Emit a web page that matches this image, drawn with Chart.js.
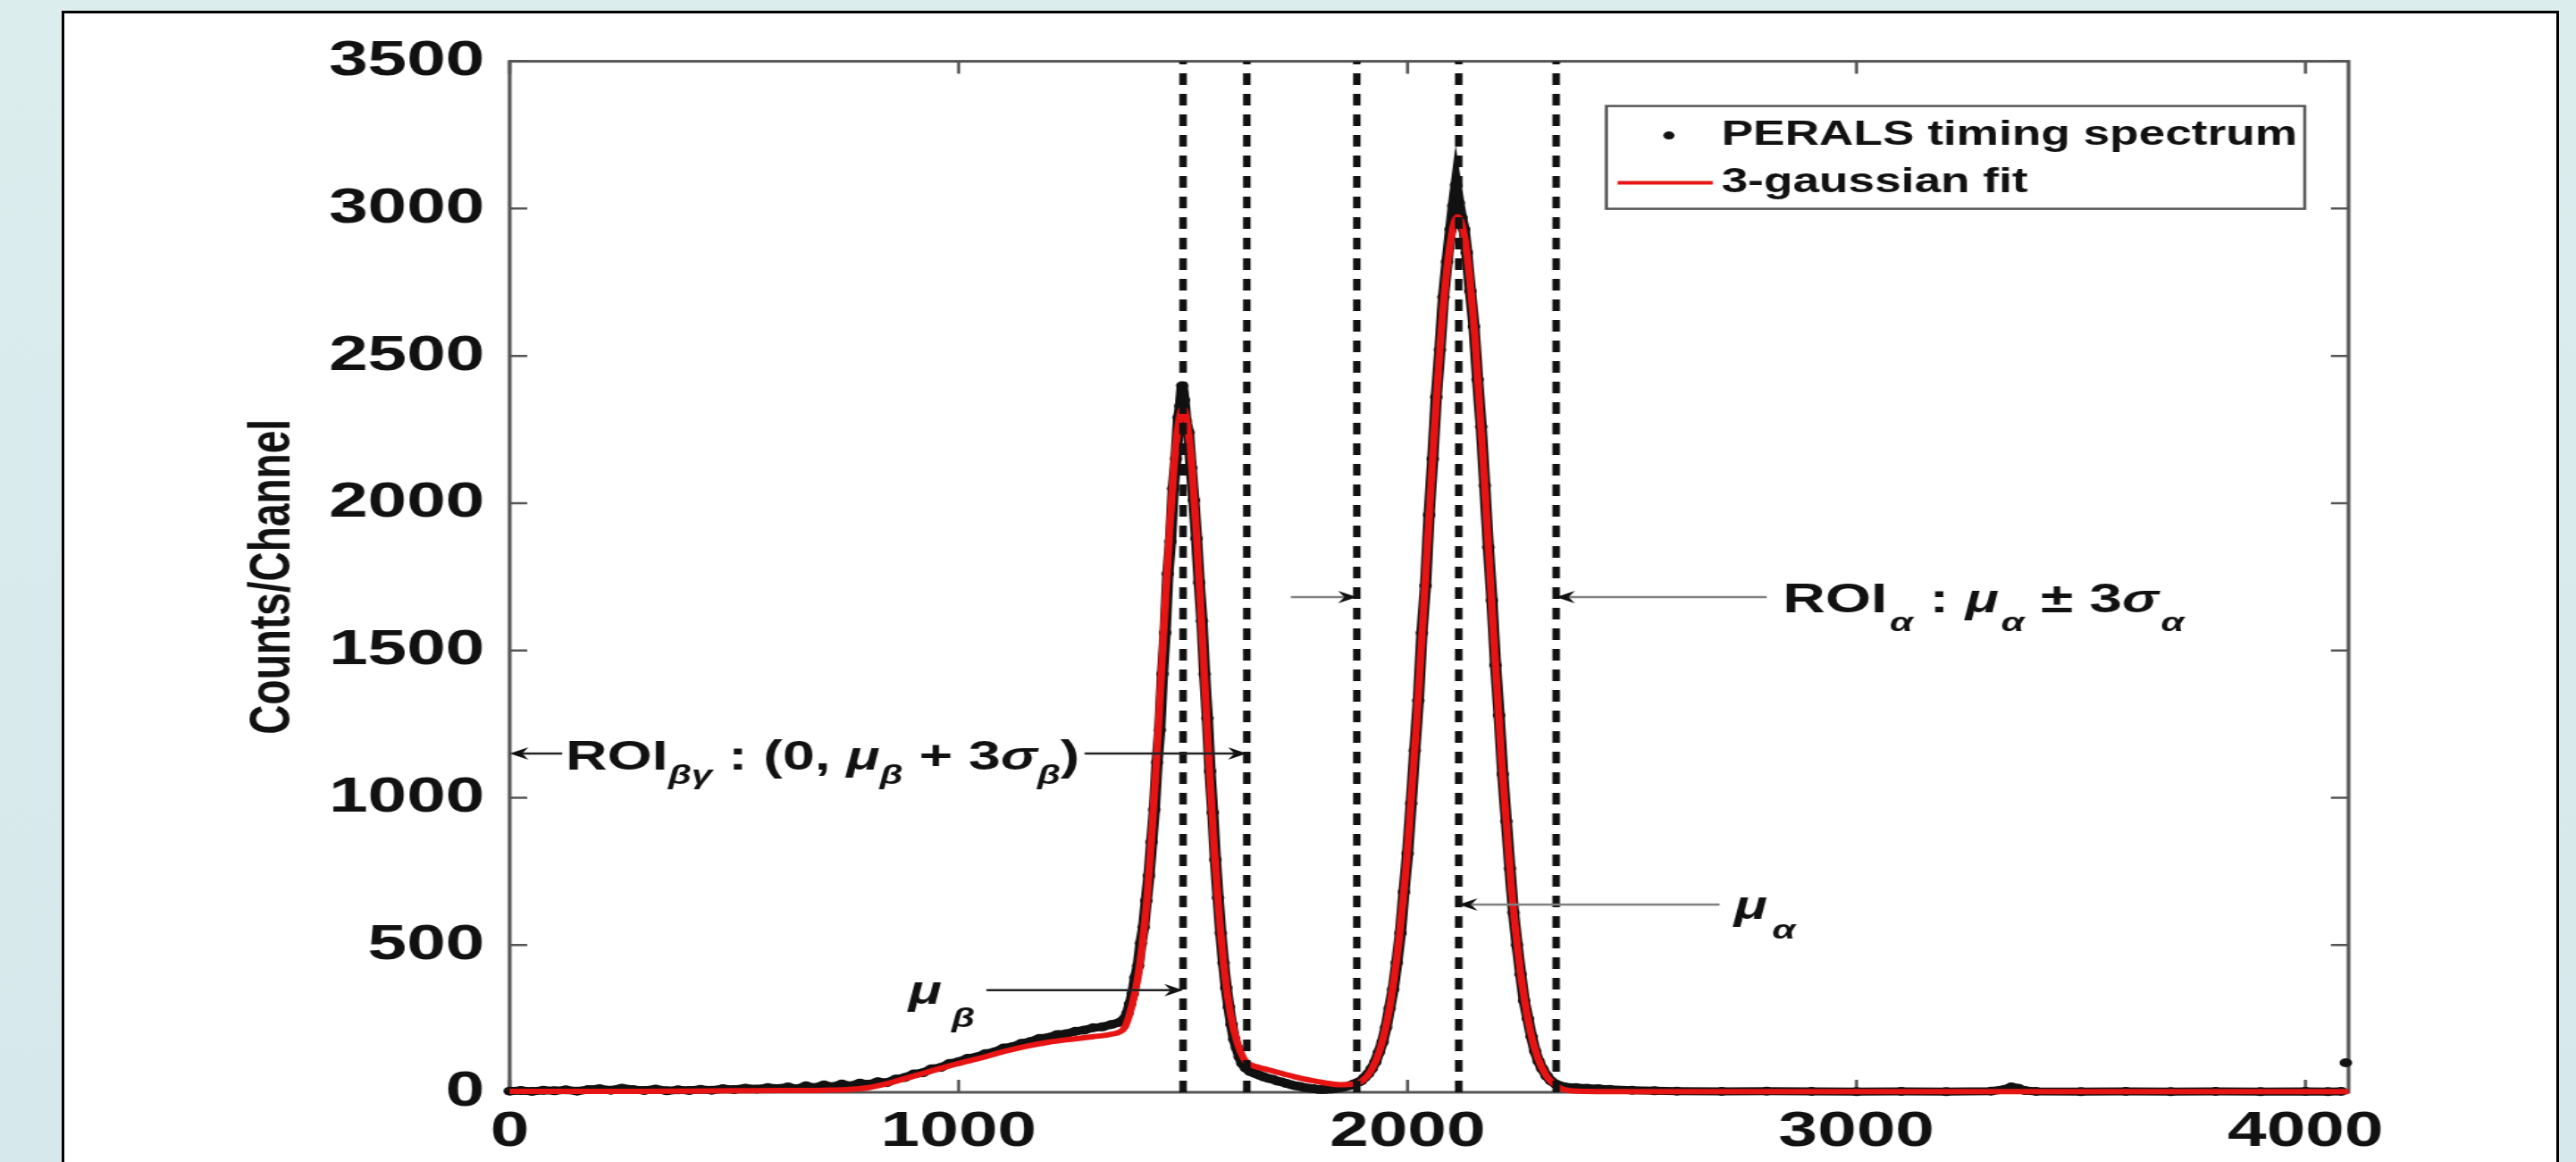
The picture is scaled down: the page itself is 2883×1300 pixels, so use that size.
<!DOCTYPE html>
<html lang="en">
<head>
<meta charset="UTF-8">
<title>PERALS timing spectrum</title>
<script src="https://cdn.jsdelivr.net/npm/chart.js"></script>
<style>
  html, body { margin: 0; padding: 0; }
  body {
    width: 2883px; height: 1300px; overflow: hidden; position: relative;
    background: linear-gradient(180deg, #dcedee 0%, #d6e8eb 100%);
  }
  .frame {
    position: absolute; left: 69px; top: 12px; width: 2789px; height: 1400px;
    border: 3px solid #000; background: #fff; overflow: hidden;
  }
  /* the source figure is stretched sideways, so the canvas is too */
  .stretch { position: absolute; left: 0; top: 0; transform-origin: 0 0; transform: scaleX(1.4); }
</style>
</head>
<body>
<div class="frame">
  <div class="stretch">
    <canvas id="spectrumChart" width="1992" height="1285" style="width:1992px;height:1285px"></canvas>
  </div>
</div>

<script>
// measured timing spectrum (channel, counts per channel)
const dataChannels = [
  0,25,50,75,100,125,150,175,200,225,250,275,300,325,350,375,400,425,450,475,500,525,550,575,600,
  620,640,660,680,700,720,740,760,780,800,
  820,840,860,880,900,920,940,960,980,1000,
  1020,1040,1060,1080,1100,1120,1140,1160,1180,1200,
  1220,1240,1260,1280,1300,1320,1340,1360,
  1370,1376,1382,1388,1394,1400,1406,1412,1418,1424,
  1430,1436,1442,1448,1454,1460,1466,1472,1478,1484,
  1490,1494,1498,1502,1506,1512,1518,1524,1530,1536,
  1542,1548,1554,1560,1566,1572,1578,1584,1590,1596,
  1602,1608,1614,1620,1626,1632,1640,1650,1660,
  1670,1680,1690,1700,1710,1720,1730,1740,1750,1760,1770,1780,
  1790,1800,1810,1820,1830,1840,1850,1860,1870,1880,1890,
  1896,1904,1912,1920,1928,1936,1944,1952,1960,1968,
  1976,1984,1992,2000,2008,2016,2024,2032,2040,2048,
  2056,2064,2072,2080,2088,2096,2102,2108,2114,2120,
  2126,2132,2140,2148,2156,2164,2172,2180,2188,2196,
  2204,2212,2220,2228,2236,2244,2252,2260,2268,2276,
  2284,2292,2300,2310,2320,2330,2340,2350,
  2375,2400,2425,2450,2500,2550,2600,2700,2800,2900,3000,3100,3200,3300,
  3330,3345,3360,3375,3400,3500,3600,3700,3800,3900,4000,4050,4080,4085,4090
];
const dataCounts = [
  4,6,3,7,5,8,4,9,12,7,14,9,6,11,5,8,6,10,7,12,9,14,11,16,13,
  18,12,22,16,25,19,28,22,31,27,
  36,33,45,50,62,66,80,84,98,104,
  115,120,131,137,150,155,166,172,183,186,
  196,199,207,211,219,222,230,238,
  250,268,300,335,390,430,505,560,650,735,
  850,960,1120,1230,1420,1560,1760,1870,2050,2150,
  2290,2330,2399,2350,2280,2240,2120,2010,1880,1730,
  1600,1420,1270,1090,950,790,660,540,440,355,
  290,230,180,150,120,98,82,70,64,
  58,52,47,44,38,35,30,26,22,20,16,14,
  12,10,9,10,11,13,15,18,22,28,34,
  38,50,62,80,102,135,170,220,285,350,
  440,540,680,810,980,1160,1330,1560,1720,1960,
  2150,2360,2520,2700,2820,2930,3010,3080,3020,2970,
  2930,2850,2720,2600,2420,2260,2060,1850,1670,1450,
  1280,1080,920,760,610,500,400,310,250,190,
  140,105,80,55,38,28,22,18,
  16,14,12,10,7,5,4,3,4,3,2,3,2,4,
  10,18,14,6,3,2,3,2,3,2,3,2,3,null,100
];

// 3-gaussian fit curve
const fitChannels = [
  0,100,200,300,400,500,600,650,700,750,800,850,900,950,1000,
  1050,1100,1150,1200,1250,1300,1340,
  1370,1380,1390,1400,1410,1420,1430,1440,1450,1460,
  1470,1480,1490,1500,1510,1520,1530,1540,1550,1560,
  1570,1580,1590,1600,1610,1620,1630,1640,
  1660,1680,1700,1750,1800,1850,1880,
  1900,1920,1940,1960,1980,2000,2020,2040,2060,2080,
  2100,2112,2130,2150,2170,2190,2210,2230,2250,2270,
  2290,2310,2330,2350,2400,2500,3000,3500,4096
];
const fitCounts = [
  3,3,3,3,4,5,6,6,7,9,16,33,55,77,98,
  117,138,156,170,180,189,197,
  220,262,320,398,515,665,870,1108,1380,1655,
  1910,2132,2270,2324,2262,2115,1890,1625,1340,1062,
  815,605,440,318,232,172,130,104,
  88,80,72,52,36,26,28,
  40,77,152,287,506,826,1252,1750,2254,2676,
  2926,2972,2873,2563,2107,1596,1114,717,426,233,
  117,54,23,9,3,2,2,2,2
];

// dotted marker lines: mu_beta, mu_beta+3sigma, mu_alpha-3sigma, mu_alpha, mu_alpha+3sigma
const roiLines = [1500, 1642, 1887, 2114, 2331];

const xTicks = [0, 1000, 2000, 3000, 4000];
const yTicks = [0, 500, 1000, 1500, 2000, 2500, 3000, 3500];

const FONT = "'Liberation Sans', Arial, Helvetica, sans-serif";
const INK = '#111';
const FIT_RED = 'rgb(232, 20, 20)';

// annotation anchors, in data units
const notes = {
  roiBetaGamma: { y: 1150, from: 0, to: 1642, textX: 125 },
  muBeta: { y: 347, lineFrom: 1062, tip: 1500, textX: 888 },
  roiAlpha: { y: 1681, leftFrom: 1740, leftTip: 1887, rightTip: 2331, rightTo: 2800, textX: 2836 },
  muAlpha: { y: 637, tip: 2114, lineTo: 2695, textX: 2727 }
};

function toPoints(xs, ys) {
  return xs.map((c, i) => ({ x: c, y: ys[i] }));
}

function arrowHead(ctx, tipX, y, dir) {
  // dir = 1 points right, -1 points left
  ctx.beginPath();
  ctx.moveTo(tipX, y);
  ctx.lineTo(tipX - dir * 15, y - 7);
  ctx.lineTo(tipX - dir * 10, y);
  ctx.lineTo(tipX - dir * 15, y + 7);
  ctx.closePath();
  ctx.fill();
}

function hLine(ctx, x1, x2, y, color) {
  ctx.strokeStyle = color;
  ctx.beginPath();
  ctx.moveTo(x1, y);
  ctx.lineTo(x2, y);
  ctx.stroke();
}

function richText(ctx, x, baseY, parts) {
  let cx = x;
  parts.forEach(p => {
    ctx.font = p.font;
    ctx.fillText(p.t, cx, baseY + (p.dy || 0));
    cx += ctx.measureText(p.t).width + (p.gap || 0);
  });
  return cx;
}

// box round the axes with inward ticks, like the original plot
const axesBox = {
  id: 'axesBox',
  beforeDatasetsDraw(chart) {
    const { ctx, chartArea: a, scales: { x, y } } = chart;
    ctx.save();
    ctx.strokeStyle = '#555';
    ctx.lineWidth = 3;
    ctx.strokeRect(a.left, a.top, a.right - a.left, a.bottom - a.top);
    ctx.lineWidth = 2.5;
    ctx.beginPath();
    x.ticks.forEach(t => {
      const px = x.getPixelForValue(t.value);
      ctx.moveTo(px, a.bottom); ctx.lineTo(px, a.bottom - 14);
      ctx.moveTo(px, a.top); ctx.lineTo(px, a.top + 14);
    });
    y.ticks.forEach(t => {
      const py = y.getPixelForValue(t.value);
      ctx.moveTo(a.left, py); ctx.lineTo(a.left + 14, py);
      ctx.moveTo(a.right, py); ctx.lineTo(a.right - 14, py);
    });
    ctx.stroke();
    ctx.restore();
  }
};

// arrows and labels for the regions of interest
const roiNotes = {
  id: 'roiNotes',
  afterDatasetsDraw(chart) {
    const { ctx, scales: { x, y } } = chart;
    const main = `bold 46px ${FONT}`;
    const greek = `italic bold 44px ${FONT}`;
    const sub = `italic bold 30px ${FONT}`;
    ctx.save();
    ctx.lineWidth = 2.5;
    ctx.fillStyle = INK;
    ctx.textBaseline = 'alphabetic';
    ctx.textAlign = 'left';

    // ROI beta-gamma
    let n = notes.roiBetaGamma;
    let ly = y.getPixelForValue(n.y);
    let tx = x.getPixelForValue(n.textX);
    arrowHead(ctx, x.getPixelForValue(n.from), ly, -1);
    hLine(ctx, x.getPixelForValue(n.from) + 10, tx - 3, ly, '#222');
    let end = richText(ctx, tx, ly + 18, [
      { t: 'ROI', font: main },
      { t: 'βγ', font: sub, dy: 16 },
      { t: ' : (0, ', font: main },
      { t: 'μ', font: greek },
      { t: 'β', font: sub, dy: 16 },
      { t: ' + 3', font: main },
      { t: 'σ', font: greek },
      { t: 'β', font: sub, dy: 16 },
      { t: ')', font: main }
    ]);
    hLine(ctx, end + 4, x.getPixelForValue(n.to) - 10, ly, '#222');
    arrowHead(ctx, x.getPixelForValue(n.to), ly, 1);

    // mu beta
    n = notes.muBeta;
    ly = y.getPixelForValue(n.y);
    hLine(ctx, x.getPixelForValue(n.lineFrom), x.getPixelForValue(n.tip) - 10, ly, '#222');
    arrowHead(ctx, x.getPixelForValue(n.tip), ly, 1);
    richText(ctx, x.getPixelForValue(n.textX), ly + 15, [
      { t: 'μ', font: greek, gap: 8 },
      { t: 'β', font: sub, dy: 26 }
    ]);

    // ROI alpha
    n = notes.roiAlpha;
    ly = y.getPixelForValue(n.y);
    hLine(ctx, x.getPixelForValue(n.leftFrom), x.getPixelForValue(n.leftTip) - 10, ly, '#808080');
    arrowHead(ctx, x.getPixelForValue(n.leftTip), ly, 1);
    hLine(ctx, x.getPixelForValue(n.rightTip) + 10, x.getPixelForValue(n.rightTo), ly, '#808080');
    arrowHead(ctx, x.getPixelForValue(n.rightTip), ly, -1);
    richText(ctx, x.getPixelForValue(n.textX), ly + 17, [
      { t: 'ROI', font: `bold 47px ${FONT}`, gap: 2 },
      { t: 'α', font: sub, dy: 21 },
      { t: ' : ', font: `bold 47px ${FONT}` },
      { t: 'μ', font: greek, gap: 2 },
      { t: 'α', font: sub, dy: 21 },
      { t: ' ± 3', font: `bold 47px ${FONT}` },
      { t: 'σ', font: greek, gap: 2 },
      { t: 'α', font: sub, dy: 21 }
    ]);

    // mu alpha
    n = notes.muAlpha;
    ly = y.getPixelForValue(n.y);
    arrowHead(ctx, x.getPixelForValue(n.tip), ly, -1);
    hLine(ctx, x.getPixelForValue(n.tip) + 10, x.getPixelForValue(n.lineTo), ly, '#808080');
    richText(ctx, x.getPixelForValue(n.textX), ly + 16, [
      { t: 'μ', font: greek, gap: 4 },
      { t: 'α', font: sub, dy: 22 }
    ]);
    ctx.restore();
  }
};

// legend box in the upper right corner of the axes
const boxLegend = {
  id: 'boxLegend',
  afterDraw(chart) {
    const { ctx, chartArea: a } = chart;
    const labels = [chart.data.datasets[0].label, chart.data.datasets[1].label];
    ctx.save();
    ctx.font = `bold 38px ${FONT}`;
    const w = ctx.measureText(labels[0]).width;
    const boxW = 92 + w + 6, boxH = 115;
    const bx = a.right - 35 - boxW, by = a.top + 50;
    ctx.fillStyle = '#fff';
    ctx.fillRect(bx, by, boxW, boxH);
    ctx.strokeStyle = '#555';
    ctx.lineWidth = 2.5;
    ctx.strokeRect(bx, by, boxW, boxH);

    ctx.fillStyle = INK;
    ctx.beginPath();
    ctx.arc(bx + 50, by + 33, 4.5, 0, Math.PI * 2);
    ctx.fill();

    ctx.strokeStyle = FIT_RED;
    ctx.lineWidth = 4;
    ctx.beginPath();
    ctx.moveTo(bx + 9, by + 86);
    ctx.lineTo(bx + 85, by + 86);
    ctx.stroke();

    ctx.fillStyle = INK;
    ctx.textBaseline = 'middle';
    ctx.textAlign = 'left';
    ctx.fillText(labels[0], bx + 92, by + 33);
    ctx.fillText(labels[1], bx + 92, by + 86);
    ctx.restore();
  }
};

const tickFont = { family: FONT, size: 56, weight: 'bold' };

const roiDatasets = roiLines.map(v => ({
  label: 'ROI ' + v,
  data: [{ x: v, y: 0 }, { x: v, y: 3500 }],
  borderColor: INK,
  borderWidth: 6,
  borderDash: [13, 10],
  pointRadius: 0,
  order: 1
}));

const ctx = document.getElementById('spectrumChart').getContext('2d');
new Chart(ctx, {
  type: 'line',
  data: {
    datasets: [
      {
        label: 'PERALS timing spectrum',
        data: toPoints(dataChannels, dataCounts),
        borderColor: INK,
        backgroundColor: INK,
        borderWidth: 9,
        pointRadius: 5,
        pointBorderWidth: 0,
        pointBackgroundColor: INK,
        spanGaps: false,
        clip: false,
        order: 3
      },
      {
        label: '3-gaussian fit',
        data: toPoints(fitChannels, fitCounts),
        borderColor: FIT_RED,
        borderWidth: 6,
        pointRadius: 0,
        cubicInterpolationMode: 'monotone',
        clip: false,
        order: 2
      },
      ...roiDatasets
    ]
  },
  options: {
    responsive: false,
    animation: false,
    events: [],
    layout: { padding: { top: 37, right: 166, left: 0, bottom: 0 } },
    plugins: {
      legend: { display: false },
      tooltip: { enabled: false }
    },
    scales: {
      x: {
        type: 'linear',
        min: 0,
        max: 4096,
        grid: { display: false, drawTicks: false },
        border: { display: false },
        afterBuildTicks: s => { s.ticks = xTicks.map(v => ({ value: v })); },
        ticks: {
          padding: 11,
          maxRotation: 0,
          autoSkip: false,
          color: INK,
          font: tickFont,
          callback: v => String(v)
        },
        afterFit: s => { s.height = 78; }
      },
      y: {
        min: 0,
        max: 3500,
        grid: { display: false, drawTicks: false },
        border: { display: false },
        afterBuildTicks: s => { s.ticks = yTicks.map(v => ({ value: v })); },
        ticks: {
          padding: 20,
          color: INK,
          font: tickFont,
          callback: v => String(v)
        },
        title: {
          display: true,
          text: 'Counts/Channel',
          color: INK,
          font: { family: FONT, size: 46, weight: 'bold' },
          padding: { top: 140, bottom: 0 }
        },
        afterFit: s => { s.width = 356; }
      }
    }
  },
  plugins: [axesBox, roiNotes, boxLegend]
});
</script>
</body>
</html>
